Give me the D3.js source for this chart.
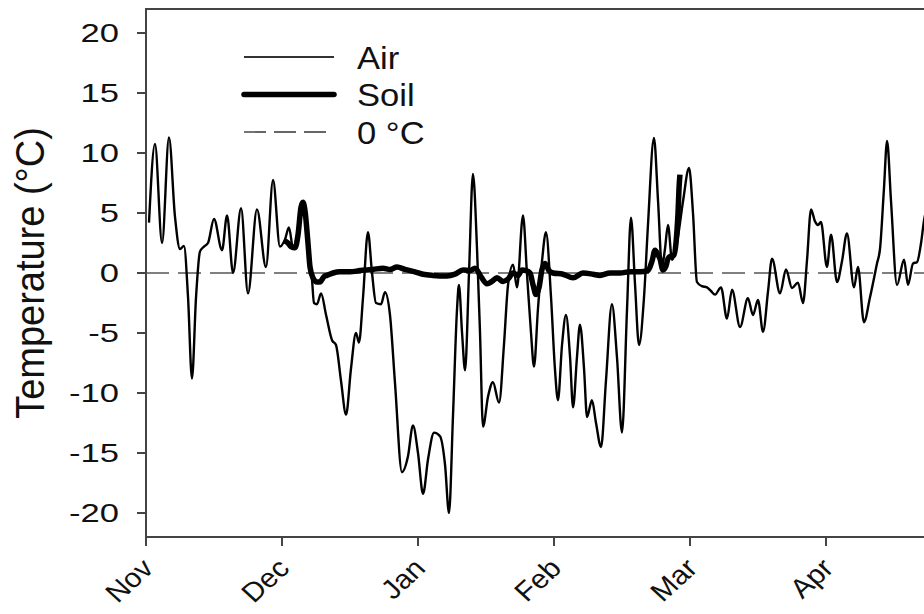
<!DOCTYPE html>
<html lang="en">

<head>
    <meta charset="UTF-8" />
    <title>Air and soil temperature</title>
    <script src="https://cdnjs.cloudflare.com/ajax/libs/d3/7.8.5/d3.min.js"></script>
    <style>
        body {
            margin: 0;
            padding: 0;
            background: #fff;
            font-family: 'Liberation Sans', Arial, sans-serif;
            overflow: hidden;
        }

        .tick-label {
            font-size: 26px;
            fill: #111;
        }

        .month-label {
            font-size: 27px;
            fill: #111;
        }

        .legend-label {
            font-size: 32px;
            fill: #111;
        }
    </style>
</head>

<body>
    <svg id="chart" width="924" height="614"></svg>

    <script>
        // x values are in months counted from 1 Nov (ticks are evenly spaced)
        const monthLabels = ["Nov", "Dec", "Jan", "Feb", "Mar", "Apr"];
        const yTicks = [-20, -15, -10, -5, 0, 5, 10, 15, 20];

        const airX = [0.022, 0.066, 0.118, 0.169, 0.213, 0.250, 0.279, 0.309, 0.338, 0.368,
            0.397, 0.426, 0.456, 0.500, 0.559, 0.596, 0.640, 0.699, 0.750, 0.816,
            0.882, 0.934, 0.985, 1.022, 1.051, 1.081, 1.118, 1.154, 1.191, 1.221,
            1.235, 1.257, 1.287, 1.324, 1.368, 1.397, 1.434, 1.471, 1.507, 1.544,
            1.566, 1.596, 1.632, 1.662, 1.691, 1.728, 1.757, 1.794, 1.831, 1.882,
            1.926, 1.963, 2.000, 2.037, 2.074, 2.118, 2.162, 2.199, 2.228, 2.257,
            2.287, 2.301, 2.324, 2.346, 2.375, 2.404, 2.434, 2.456, 2.478, 2.515,
            2.551, 2.596, 2.632, 2.662, 2.699, 2.728, 2.772, 2.801, 2.831, 2.853,
            2.882, 2.912, 2.941, 2.978, 3.007, 3.029, 3.059, 3.088, 3.118, 3.140,
            3.169, 3.191, 3.221, 3.243, 3.279, 3.309, 3.346, 3.382, 3.426, 3.463,
            3.500, 3.537, 3.566, 3.596, 3.625, 3.662, 3.691, 3.735, 3.765, 3.794,
            3.816, 3.838, 3.868, 3.904, 3.949, 3.993, 4.022, 4.051, 4.088, 4.125,
            4.154, 4.184, 4.228, 4.272, 4.309, 4.368, 4.426, 4.463, 4.500, 4.537,
            4.574, 4.603, 4.662, 4.706, 4.750, 4.794, 4.831, 4.860, 4.890, 4.919,
            4.941, 4.963, 5.007, 5.037, 5.081, 5.118, 5.154, 5.206, 5.235, 5.279,
            5.324, 5.375, 5.397, 5.426, 5.449, 5.478, 5.522, 5.574, 5.603, 5.640,
            5.669, 5.699, 5.721, 5.765];

        const airT = [4.2, 10.75, 2.5, 11.3, 4.7, 2.0, 2.25, -2, -8.8, -2,
            1.8, 2.2, 2.5, 4.5, 1.9, 4.8, 0, 5.4, -1.7, 5.3,
            0.5, 7.75, 2.2, 2.8, 3.8, 2.1, 3.5, 5.9, 2, -0.6,
            -2.5, -2.6, -1.7, -3.5, -5.6, -6, -9, -11.8, -8, -5,
            -5.8, -2, 3.4, 0, -2.5, -2.6, -1.6, -3.5, -9.2, -16.6,
            -15.3, -12.7, -15, -18.4, -15.5, -13.3, -13.6, -16, -20, -12,
            -3, -1.0, -5, -8.1, 0, 8.25, 2, -5, -12.8, -10.3,
            -9.1, -10.8, -6, -1, 0.7, -1.2, 4.8, 0, -5, -7.8,
            -3, 1, 3.4, -2, -8, -10.6, -6, -3.5, -7, -11.2,
            -7, -4.3, -8, -12, -10.6, -12.5, -14.5, -9, -2.6, -7,
            -13.3, -3, 4.6, -1, -6, -2, 4, 11.25, 6, 0.5,
            2, 4, 1.1, 2.5, 6, 8.75, 5, -0.75, -1.1, -1.2,
            -1.5, -1.8, -1.2, -3.8, -1.4, -4.5, -2.1, -3.5, -2.25, -4.9,
            -1.5, 1.2, -1.7, 0.3, -1.25, -0.8, -2.5, 1, 5.3, 4.3,
            4, 4.25, 0.5, 3.2, -0.75, 1, 3.3, -1.2, 0.5, -4.1,
            -2, 0.8, 2, 7, 11, 6, -1, 1.1, -1, 0.8,
            0.9, 2.5, 4.4, 6];

        const soilX = [1.015, 1.044, 1.066, 1.096, 1.118, 1.140, 1.154, 1.169, 1.191, 1.206,
            1.228, 1.257, 1.279, 1.309, 1.331, 1.375, 1.426, 1.500, 1.574, 1.669,
            1.743, 1.794, 1.846, 1.904, 1.978, 2.037, 2.110, 2.213, 2.272, 2.331,
            2.382, 2.419, 2.463, 2.507, 2.544, 2.581, 2.625, 2.662, 2.699, 2.735,
            2.765, 2.794, 2.824, 2.846, 2.868, 2.890, 2.912, 2.934, 2.963, 2.993,
            3.066, 3.140, 3.213, 3.287, 3.338, 3.412, 3.485, 3.559, 3.632, 3.691,
            3.721, 3.743, 3.765, 3.779, 3.801, 3.824, 3.838, 3.860, 3.882, 3.897,
            3.904, 3.912, 3.919, 3.926];

        const soilT = [2.7, 2.5, 2.2, 2.1, 3.2, 5.5, 5.9, 5.2, 2.5, 0.5,
            -0.4, -0.75, -0.75, -0.3, -0.2, 0.0, 0.1, 0.1, 0.2, 0.3,
            0.4, 0.3, 0.5, 0.3, 0.1, -0.1, -0.2, -0.25, -0.1, 0.25,
            0.2, 0.4, -0.3, -0.9, -0.7, -0.4, -0.7, -0.5, 0, -0.2,
            0.25, 0.2, 0, -1.0, -1.8, -1.2, 0.3, 0.8, 0.2, 0,
            -0.1, -0.4, 0.0, -0.1, -0.2, 0.0, 0.0, 0.1, 0.1, 0.2,
            1.0, 1.9, 1.5, 1.2, 0.25, 0.6, 1.2, 1.4, 1.5, 2.5,
            3.5, 5, 7, 8.2];

        const legendItems = ["Air", "Soil", "0 °C"];

        const svg = d3.select("#chart");
        const plotLeft = 146, plotTop = 9, plotBottom = 537, plotRight = 962;

        const x = d3.scaleLinear().domain([0, 6]).range([plotLeft, plotRight]);
        const y = d3.scaleLinear().domain([-22, 22]).range([plotBottom, plotTop]);

        svg.append("defs").append("clipPath")
            .attr("id", "plot-clip")
            .append("rect")
            .attr("x", plotLeft).attr("y", plotTop)
            .attr("width", plotRight - plotLeft).attr("height", plotBottom - plotTop);

        // zero reference line
        svg.append("line")
            .attr("x1", plotLeft).attr("x2", plotRight)
            .attr("y1", y(0)).attr("y2", y(0))
            .attr("stroke", "#555")
            .attr("stroke-width", 1.6)
            .attr("stroke-dasharray", "23,9");

        const line = d3.line()
            .x(d => x(d[0]))
            .y(d => y(d[1]))
            .curve(d3.curveMonotoneX);

        const air = airX.map((v, i) => [v, airT[i]]);
        const soil = soilX.map((v, i) => [v, soilT[i]]);

        const plot = svg.append("g").attr("clip-path", "url(#plot-clip)");

        plot.append("path")
            .datum(air)
            .attr("d", line)
            .attr("fill", "none")
            .attr("stroke", "#000")
            .attr("stroke-width", 2.4)
            .attr("stroke-linejoin", "round");

        plot.append("path")
            .datum(soil)
            .attr("d", line)
            .attr("fill", "none")
            .attr("stroke", "#000")
            .attr("stroke-width", 5.5)
            .attr("stroke-linejoin", "round");

        // frame: left, bottom and top
        svg.append("path")
            .attr("d", `M${plotRight},${plotTop}H${plotLeft}V${plotBottom}H${plotRight}`)
            .attr("fill", "none")
            .attr("stroke", "#444")
            .attr("stroke-width", 2);

        // y axis ticks and labels
        const yAxis = svg.append("g");
        yAxis.selectAll("line")
            .data(yTicks)
            .join("line")
            .attr("x1", plotLeft - 9).attr("x2", plotLeft)
            .attr("y1", d => y(d)).attr("y2", d => y(d))
            .attr("stroke", "#444")
            .attr("stroke-width", 2);

        yAxis.selectAll("text")
            .data(yTicks)
            .join("text")
            .attr("class", "tick-label")
            .attr("transform", d => `translate(119,${y(d)}) scale(1.33,1)`)
            .attr("dy", "0.35em")
            .attr("text-anchor", "end")
            .text(d => d);

        // x axis ticks and rotated month labels
        const xAxis = svg.append("g");
        xAxis.selectAll("line")
            .data(monthLabels)
            .join("line")
            .attr("x1", (d, i) => x(i)).attr("x2", (d, i) => x(i))
            .attr("y1", plotBottom).attr("y2", plotBottom + 9)
            .attr("stroke", "#444")
            .attr("stroke-width", 2);

        xAxis.selectAll("text")
            .data(monthLabels)
            .join("text")
            .attr("class", "month-label")
            .attr("text-anchor", "end")
            .attr("transform", (d, i) => `translate(${x(i) + 9},${plotBottom + 33}) scale(1.1,1) rotate(-45)`)
            .text(d => d);

        svg.append("text")
            .attr("transform", `translate(44,${y(0)}) scale(1.08,1) rotate(-90)`)
            .attr("text-anchor", "middle")
            .attr("font-size", 38)
            .attr("fill", "#111")
            .text("Temperature (°C)");

        // legend
        const legend = svg.append("g");
        const legendStyles = [
            { w: 2.2, dash: null, color: "#333", end: 334 },
            { w: 5.5, dash: null, color: "#000", end: 334 },
            { w: 1.8, dash: "22,8", color: "#666", end: 326 }
        ];
        legendItems.forEach((name, i) => {
            const ly = 57 + i * 37.5;
            const s = legendStyles[i];
            legend.append("line")
                .attr("x1", 244).attr("x2", s.end)
                .attr("y1", ly).attr("y2", ly)
                .attr("stroke", s.color)
                .attr("stroke-width", s.w)
                .attr("stroke-linecap", i === 1 ? "round" : "butt")
                .attr("stroke-dasharray", s.dash);
            legend.append("text")
                .attr("class", "legend-label")
                .attr("transform", `translate(357,${ly}) scale(1.08,1)`)
                .attr("dy", "0.36em")
                .text(name);
        });
    </script>
</body>

</html>
